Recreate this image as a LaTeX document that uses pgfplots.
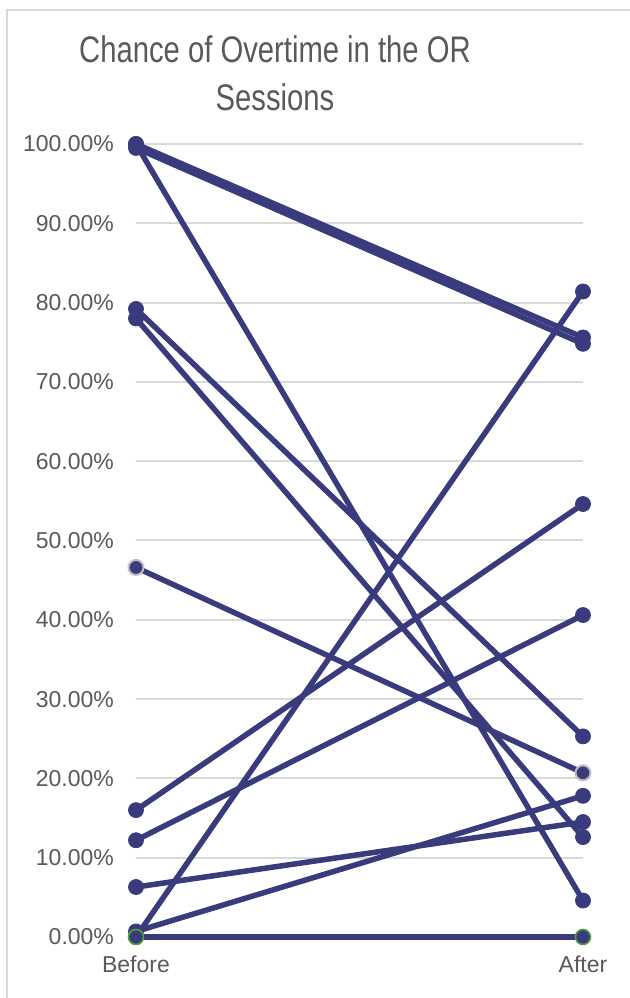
\documentclass[border=0pt]{standalone}
\usepackage{fontspec}
\setmainfont{Liberation Sans}
\newfontfamily\titlefont[FakeStretch=0.79]{Liberation Sans}
\usepackage{pgfplots}
\pgfplotsset{compat=1.18}
\usetikzlibrary{calc}
\definecolor{navy}{RGB}{57,59,125}
\definecolor{txtgrey}{RGB}{89,89,89}
\definecolor{gridgrey}{RGB}{217,217,217}
\definecolor{ringgrey}{RGB}{190,190,190}
\definecolor{ringgreen}{RGB}{80,160,60}

\begin{document}
\begin{tikzpicture}
\begin{axis}[
  name=ax, at={(0,0)}, anchor=south west,
  scale only axis, width=223.5pt, height=396.5pt,
  xmin=0, xmax=1, ymin=0, ymax=100,
  axis line style={draw=none},
  xtick={0,1}, xticklabels={Before,After},
  ytick={0,10,...,100},
  ymajorgrids, grid style={gridgrey, line width=1pt},
  major tick length=0pt,
  /pgf/number format/assume math mode=true,
  tick label style={font=\fontsize{11.5}{13}\selectfont, text=txtgrey},
  yticklabel={\pgfmathprintnumber[fixed,fixed zerofill,precision=2]{\tick}\%},
  yticklabel style={xshift=-7.5pt},
  xticklabel style={yshift=-6pt},
  clip=false,
  series/.style={navy, line width=2.75pt, line cap=round, line join=round,
    mark=*, mark size=3.75pt, mark options={fill=navy, draw=navy, line width=0.4pt}},
]
% one pair per session: chance before and after
\addplot[series] coordinates {(0,100.0) (1,75.6)};
\addplot[series] coordinates {(0,99.5) (1,74.8)};
\addplot[series] coordinates {(0,100.0) (1,4.6)};
\addplot[series] coordinates {(0,79.2) (1,25.3)};
\addplot[series] coordinates {(0,78.0) (1,12.6)};
\addplot[series, mark options={fill=navy, draw=ringgrey, line width=1pt}] coordinates {(0,46.6) (1,20.7)};
\addplot[series] coordinates {(0,16.0) (1,54.6)};
\addplot[series] coordinates {(0,12.2) (1,40.6)};
\addplot[series] coordinates {(0,6.3) (1,14.5)};
\addplot[series] coordinates {(0,0.7) (1,17.8)};
\addplot[series] coordinates {(0,0.0) (1,81.4)};
\addplot[series, mark options={fill=navy, draw=ringgreen, line width=0.8pt}] coordinates {(0,0.0) (1,0.0)};
\end{axis}
% chart title
\node[anchor=base, text=txtgrey, font=\titlefont\fontsize{18.5}{24}\selectfont]
  at ($(ax.south west)+(69.5pt,437pt)$) {Chance of Overtime in the OR};
\node[anchor=base, text=txtgrey, font=\titlefont\fontsize{18.5}{24}\selectfont]
  at ($(ax.south west)+(69.5pt,413pt)$) {Sessions};
% chart area frame
\draw[gridgrey, line width=1pt]
  ($(ax.south west)+(-64.5pt,-31pt)$) -- ($(ax.south west)+(-64.5pt,463.5pt)$)
  -- ($(ax.south west)+(247pt,463.5pt)$);
\pgfresetboundingbox
\path[use as bounding box] ($(ax.south west)+(-68pt,-30.5pt)$) rectangle ($(ax.south west)+(246.5pt,468.5pt)$);
\end{tikzpicture}
\end{document}
